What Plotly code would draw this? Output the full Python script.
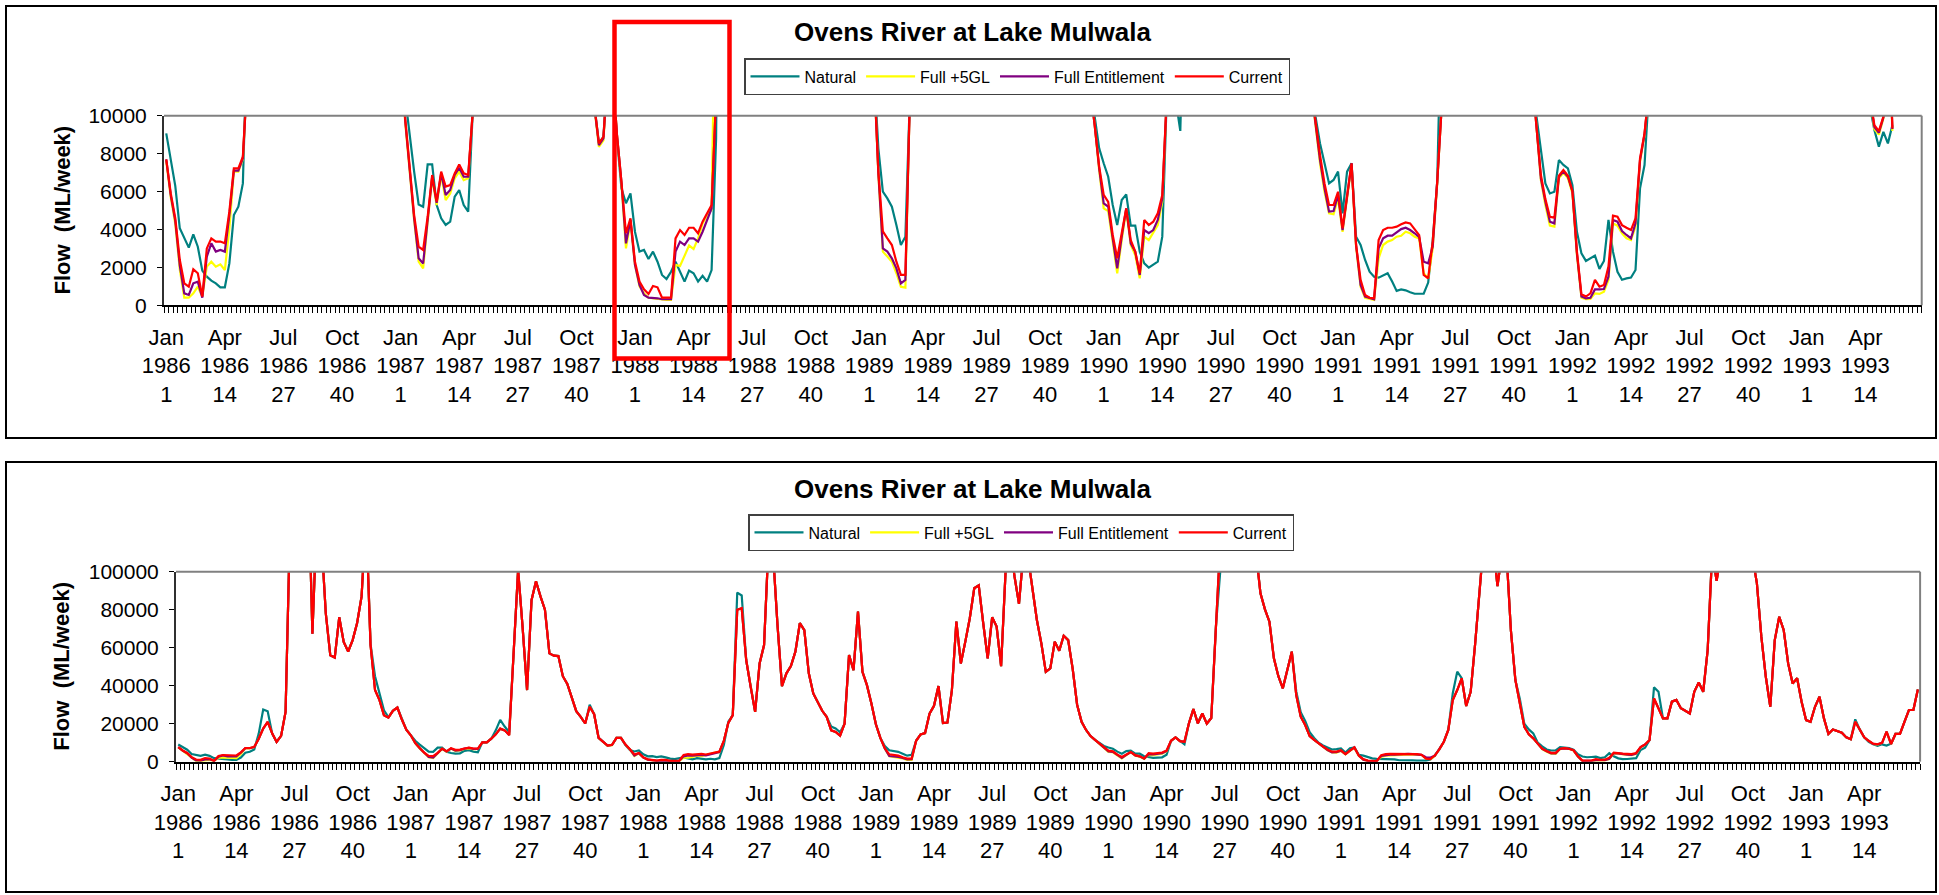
import plotly.graph_objects as go

# ---------------- data ----------------
weeks = list(range(390))  # week index, Jan 1986 wk1 .. 1993 wk26

tick_pos = [0, 13, 26, 39, 52, 65, 78, 91, 104, 117, 130, 143, 156, 169, 182,
            195, 208, 221, 234, 247, 260, 273, 286, 299, 312, 325, 338, 351, 364, 377]
tick_text = [
    "Jan<br>1986<br>1", "Apr<br>1986<br>14", "Jul<br>1986<br>27", "Oct<br>1986<br>40",
    "Jan<br>1987<br>1", "Apr<br>1987<br>14", "Jul<br>1987<br>27", "Oct<br>1987<br>40",
    "Jan<br>1988<br>1", "Apr<br>1988<br>14", "Jul<br>1988<br>27", "Oct<br>1988<br>40",
    "Jan<br>1989<br>1", "Apr<br>1989<br>14", "Jul<br>1989<br>27", "Oct<br>1989<br>40",
    "Jan<br>1990<br>1", "Apr<br>1990<br>14", "Jul<br>1990<br>27", "Oct<br>1990<br>40",
    "Jan<br>1991<br>1", "Apr<br>1991<br>14", "Jul<br>1991<br>27", "Oct<br>1991<br>40",
    "Jan<br>1992<br>1", "Apr<br>1992<br>14", "Jul<br>1992<br>27", "Oct<br>1992<br>40",
    "Jan<br>1993<br>1", "Apr<br>1993<br>14",
]

natural = [
    9070, 7660, 6300, 4060, 3530, 3040, 3740, 3090, 1830, 1510, 1300, 1160, 950,
    950, 2210, 4760, 5200, 6430, 14800, 27500, 26500, 14800, 10400, 13600, 26200, 125000,
    135000, 140000, 130000, 158000, 67300, 130000, 118000, 78000, 56000, 54800, 76000, 63000, 58000,
    64000, 73000, 87000, 130000, 62000, 45000, 36000, 27000, 23500, 26800, 28500, 22200, 16900,
    14000, 11000, 8980, 7050, 5320, 5200, 7430, 7430, 5290, 4590, 4240, 4410, 5730,
    6080, 5290, 4940, 10200, 10200, 12100, 16500, 22000, 18500, 15500, 57000, 101000, 71000,
    37700, 85000, 95000, 87000, 80000, 57000, 55800, 55600, 45000, 40900, 34200, 26600, 23600,
    20100, 30000, 25000, 12500, 10400, 8540, 8890, 12500, 12500, 8800, 6170, 5380, 5900,
    3880, 2830, 2920, 2440, 2830, 2300, 1600, 1390, 1770, 2300, 1770, 1250, 1830,
    1690, 1250, 1560, 1250, 1860, 8800, 21000, 24500, 89000, 87500, 53500, 39400, 26200,
    51700, 61400, 115000, 110000, 72000, 39800, 46500, 50300, 57900, 72900, 69300, 46500, 35900,
    31500, 26800, 23600, 18500, 17500, 15500, 20000, 56100, 48200, 79000, 47300, 40300, 30600,
    19700, 12500, 8280, 5990, 5640, 5200, 4230, 3180, 3620, 11000, 14400, 15100, 25300,
    29400, 39800, 20400, 20600, 37700, 73700, 51700, 63200, 75500, 91300, 92800, 72900, 54400,
    76000, 71100, 50300, 100000, 115000, 97500, 83100, 110000, 108000, 92000, 74600, 62300, 47300,
    49100, 63200, 58400, 66300, 64000, 49000, 30000, 21000, 16700, 13500, 11500, 9950, 8280,
    7490, 6780, 5290, 4230, 5550, 5850, 4200, 4200, 2830, 2210, 1990, 2130, 2300,
    3620, 11000, 12800, 10800, 9200, 20200, 27700, 20200, 25400, 20000, 23000, 70000, 115000,
    130000, 140000, 135000, 125000, 120000, 130000, 125000, 110000, 88600, 80200, 73700, 54400, 45000,
    38600, 48000, 57900, 37000, 26000, 21500, 15500, 12500, 9950, 8540, 7490, 6430, 6610,
    7050, 4850, 7050, 7490, 3620, 3180, 2390, 1770, 1510, 1460, 1560, 1690, 1250,
    760, 840, 790, 690, 610, 610, 610, 1200, 3400, 6500, 10500, 16700, 36000,
    47400, 44000, 29300, 36800, 62000, 90000, 118000, 125000, 115000, 92400, 110000, 110000, 69000,
    43000, 33000, 20000, 17000, 14900, 10000, 8100, 6430, 5900, 5990, 7660, 7400, 7220,
    6340, 3880, 2740, 2340, 2480, 2620, 1920, 2340, 4500, 2830, 1770, 1350, 1420,
    1460, 1860, 6170, 7400, 11400, 39100, 36800, 22800, 22800, 31600, 32500, 28100, 26800,
    25400, 36800, 41700, 36800, 58800, 110000, 95200, 110000, 120000, 130000, 125000, 120000, 115000,
    112000, 108000, 94000, 65800, 44700, 28900, 64000, 76300, 69300, 51700, 41200, 43900, 31600,
    21900, 21000, 28900, 34200, 22800, 14600, 17000, 16300, 15300, 12800, 11800, 22300, 17000,
    12800, 10500, 9240, 8370, 9150, 8540, 9500, 14600, 14600, 21000, 27200, 27200, 38000,
]

full_5gl = [
    7600, 5700, 4300, 1900, 400, 400, 630, 980, 460, 2040, 2300, 2040, 2160,
    1860, 4060, 7050, 7050, 7700, 12100, 17400, 21000, 15000, 10400, 13600, 26200, 125000,
    135000, 140000, 130000, 158000, 67300, 130000, 118000, 78000, 56000, 54800, 76000, 63000, 58000,
    64000, 73000, 87000, 130000, 61500, 37700, 32400, 24500, 23200, 26800, 28500, 22200, 16900,
    13900, 9700, 7000, 4500, 2300, 1950, 4400, 6700, 5290, 6870, 5550, 5900, 6700,
    7050, 6600, 6700, 10200, 10200, 12100, 14400, 17400, 16500, 14000, 57000, 101000, 71000,
    37700, 85000, 95000, 87000, 80000, 57000, 55800, 55600, 45000, 40900, 34200, 26600, 23600,
    20100, 28900, 25000, 12500, 10400, 8350, 8700, 12500, 12500, 9000, 6400, 3000, 4400,
    2130, 1000, 630, 400, 370, 320, 280, 280, 280, 2130, 2070, 2570, 3150,
    2970, 3530, 4320, 4760, 5030, 11000, 20400, 24500, 80000, 80800, 53500, 39400, 26200,
    51700, 61400, 115000, 110000, 72000, 39800, 46500, 50300, 57900, 72900, 69300, 46500, 35900,
    31500, 26800, 23600, 16500, 15700, 13700, 20000, 56100, 48200, 79000, 47300, 40300, 30600,
    19700, 12500, 6900, 2830, 2570, 2300, 1690, 980, 930, 11000, 14400, 15100, 25300,
    29400, 39800, 20400, 20600, 37700, 73700, 51700, 63200, 75500, 91300, 92800, 72900, 54400,
    76000, 71100, 50300, 100000, 115000, 97500, 83100, 110000, 108000, 92000, 74600, 62300, 47300,
    49100, 63200, 58400, 66300, 64000, 49000, 30000, 21000, 16700, 13500, 11500, 9500, 7100,
    5110, 4970, 3360, 1690, 3440, 5030, 3180, 2650, 1420, 3620, 3440, 3800, 4230,
    5460, 11000, 12800, 10800, 10500, 20200, 27700, 20200, 25400, 20000, 23000, 70000, 115000,
    130000, 140000, 135000, 125000, 120000, 130000, 125000, 110000, 88600, 80200, 73700, 54400, 45000,
    38600, 48000, 57900, 35000, 23700, 19300, 13500, 11500, 9600, 7490, 5990, 4850, 4800,
    5640, 3880, 5700, 7400, 3090, 980, 400, 320, 280, 2480, 3180, 3360, 3440,
    3620, 3670, 3880, 3800, 3620, 3530, 1690, 1420, 3000, 6400, 10500, 16700, 32500,
    37700, 43900, 29300, 36800, 62000, 90000, 118000, 125000, 115000, 92400, 110000, 110000, 69000,
    43000, 31600, 18400, 14400, 12300, 9500, 6600, 5290, 4200, 4150, 6700, 7000, 6700,
    5900, 2650, 400, 320, 340, 630, 600, 720, 1340, 4320, 4200, 3800, 3530,
    3440, 4150, 7570, 8980, 11400, 33300, 28100, 22800, 22800, 31600, 32500, 28100, 26800,
    25400, 36800, 41700, 36800, 58800, 110000, 95200, 110000, 120000, 130000, 125000, 120000, 115000,
    112000, 108000, 94000, 65800, 44700, 28900, 64000, 76300, 69300, 51700, 41200, 43900, 31600,
    21900, 21000, 28900, 34200, 22800, 14600, 17000, 16300, 15300, 12800, 11800, 21000, 17000,
    12800, 11000, 9300, 9000, 9850, 15800, 9200, 14600, 14600, 21000, 27200, 27200, 38000,
]

full_entitlement = [
    7700, 5800, 4450, 2100, 630, 545, 1160, 1250, 400, 2570, 3270, 2830, 2920,
    2830, 4760, 7100, 7100, 7750, 12100, 17400, 21000, 15000, 10400, 13600, 26200, 125000,
    135000, 140000, 130000, 158000, 67300, 130000, 118000, 78000, 56000, 54800, 76000, 63000, 58000,
    64000, 73000, 87000, 130000, 61500, 37700, 32400, 24500, 23200, 26800, 28500, 22200, 16900,
    13900, 9800, 7100, 4600, 2480, 2210, 4500, 6780, 5400, 6960, 5820, 6080, 6870,
    7250, 6780, 6780, 10200, 10200, 12100, 14400, 17400, 16500, 14000, 57000, 101000, 71000,
    37700, 85000, 95000, 87000, 80000, 57000, 55800, 55600, 45000, 40900, 34200, 26600, 23600,
    20100, 28900, 25000, 12500, 10400, 8450, 8800, 12500, 12500, 9000, 6500, 3270, 4500,
    2130, 1070, 545, 400, 400, 370, 320, 320, 320, 2830, 3360, 3180, 3530,
    3530, 3360, 3880, 4500, 5110, 11000, 20400, 24500, 80000, 80800, 53500, 39400, 26200,
    51700, 61400, 115000, 110000, 72000, 39800, 46500, 50300, 57900, 72900, 69300, 46500, 35900,
    31500, 26800, 23600, 16500, 15700, 13700, 20000, 56100, 48200, 79000, 47300, 40300, 30600,
    19700, 12500, 7000, 3000, 2830, 2480, 1950, 1160, 1340, 11000, 14400, 15100, 25300,
    29400, 39800, 20400, 20600, 37700, 73700, 51700, 63200, 75500, 91300, 92800, 72900, 54400,
    76000, 71100, 50300, 100000, 115000, 97500, 83100, 110000, 108000, 92000, 74600, 62300, 47300,
    49100, 63200, 58400, 66300, 64000, 49000, 30000, 21000, 16700, 13500, 11500, 9500, 7220,
    5380, 5200, 3530, 1950, 3620, 5110, 3270, 2830, 1600, 3970, 3800, 3970, 4500,
    5640, 11000, 12800, 10800, 10500, 20200, 27700, 20200, 25400, 20000, 23000, 70000, 115000,
    130000, 140000, 135000, 125000, 120000, 130000, 125000, 110000, 88600, 80200, 73700, 54400, 45000,
    38600, 48000, 57900, 35000, 23700, 19300, 13500, 11500, 9600, 7660, 6170, 4940, 4970,
    5820, 3970, 5800, 7490, 3180, 1070, 460, 370, 320, 3000, 3530, 3670, 3670,
    3850, 4020, 4090, 3970, 3800, 3600, 2300, 2210, 3090, 6500, 10500, 16700, 32500,
    37700, 43900, 29300, 36800, 62000, 90000, 118000, 125000, 115000, 92400, 110000, 110000, 69000,
    43000, 31600, 18400, 14400, 12300, 9500, 6700, 5460, 4410, 4320, 6780, 7050, 6780,
    6000, 2740, 460, 370, 400, 840, 840, 860, 1510, 4500, 4410, 3920, 3710,
    3530, 4320, 7660, 9020, 11400, 33300, 28100, 22800, 22800, 31600, 32500, 28100, 26800,
    25400, 36800, 41700, 36800, 58800, 110000, 95200, 110000, 120000, 130000, 125000, 120000, 115000,
    112000, 108000, 94000, 65800, 44700, 28900, 64000, 76300, 69300, 51700, 41200, 43900, 31600,
    21900, 21000, 28900, 34200, 22800, 14600, 17000, 16300, 15300, 12800, 11800, 21000, 17000,
    12800, 11000, 9400, 9100, 9900, 15800, 9300, 14600, 14600, 21000, 27200, 27200, 38000,
]

current = [
    7700, 5900, 4600, 2400, 1160, 980, 1900, 1690, 460, 3000, 3530, 3360, 3360,
    3270, 4940, 7220, 7220, 7840, 12100, 17400, 21000, 15000, 10400, 13600, 26200, 125000,
    135000, 140000, 130000, 158000, 67300, 130000, 118000, 78000, 56000, 54800, 76000, 63000, 58000,
    64000, 73000, 87000, 130000, 61500, 37700, 32400, 24500, 23200, 26800, 28500, 22200, 16900,
    13900, 9900, 7220, 4760, 3090, 2920, 4670, 6870, 5470, 7050, 6260, 6340, 6960,
    7430, 6960, 6870, 10200, 10200, 12100, 14400, 17400, 16500, 14000, 57000, 101000, 71000,
    37700, 85000, 95000, 87000, 80000, 57000, 55800, 55600, 45000, 40900, 34200, 26600, 23600,
    20100, 28900, 25000, 12500, 10400, 8540, 8890, 12500, 12500, 9000, 6500, 3800, 4590,
    2300, 1250, 840, 600, 1020, 950, 400, 400, 400, 3530, 3970, 3710, 4090,
    4090, 3800, 4410, 4850, 5290, 11000, 20400, 24500, 80000, 80800, 53500, 39400, 26200,
    51700, 61400, 115000, 110000, 72000, 39800, 46500, 50300, 57900, 72900, 69300, 46500, 35900,
    31500, 26800, 23600, 16500, 15700, 13700, 20000, 56100, 48200, 79000, 47300, 40300, 30600,
    19700, 12500, 7050, 3900, 3530, 3180, 2300, 1600, 1600, 11000, 14400, 15100, 25300,
    29400, 39800, 20400, 20600, 37700, 73700, 51700, 63200, 75500, 91300, 92800, 72900, 54400,
    76000, 71100, 50300, 100000, 115000, 97500, 83100, 110000, 108000, 92000, 74600, 62300, 47300,
    49100, 63200, 58400, 66300, 64000, 49000, 30000, 21000, 16700, 13500, 11500, 9500, 7310,
    5820, 5460, 3710, 2480, 3800, 5110, 3440, 2830, 1690, 4500, 4230, 4410, 4850,
    5820, 11000, 12800, 10800, 10500, 20200, 27700, 20200, 25400, 20000, 23000, 70000, 115000,
    130000, 140000, 135000, 125000, 120000, 130000, 125000, 110000, 88600, 80200, 73700, 54400, 45000,
    38600, 48000, 57900, 35000, 23700, 19300, 13500, 11500, 9600, 7920, 6430, 5290, 5290,
    5990, 4060, 5800, 7490, 3180, 1340, 545, 400, 370, 3440, 3970, 4090, 4090,
    4150, 4270, 4370, 4320, 4020, 3700, 1600, 1420, 3360, 6520, 10500, 16700, 32500,
    37700, 43900, 29300, 36800, 62000, 90000, 118000, 125000, 115000, 92400, 110000, 110000, 69000,
    43000, 31600, 18400, 14400, 12300, 9500, 6870, 5600, 4670, 4620, 6830, 7130, 6830,
    6030, 2830, 580, 460, 630, 1340, 980, 1070, 2040, 4730, 4670, 4230, 4090,
    3970, 4590, 7750, 9070, 11400, 33300, 28100, 22800, 22800, 31600, 32500, 28100, 26800,
    25400, 36800, 41700, 36800, 58800, 110000, 95200, 110000, 120000, 130000, 125000, 120000, 115000,
    112000, 108000, 94000, 65800, 44700, 28900, 64000, 76300, 69300, 51700, 41200, 43900, 31600,
    21900, 21000, 28900, 34200, 22800, 14600, 17000, 16300, 15300, 12800, 11800, 21000, 17000,
    12800, 11000, 9500, 9190, 9950, 15800, 9330, 14600, 14600, 21000, 27200, 27200, 38000,
]

series_names = ["Natural", "Full +5GL", "Full Entitlement", "Current"]
series_colors = ["#008080", "#FFFF00", "#800080", "#FF0000"]
series_values = [natural, full_5gl, full_entitlement, current]
top_last_week = 384  # the upper (zoomed) chart's series stop here

# ---------------- layout helpers ----------------
W, H = 1939, 895
def px(x):
    return x / W
def py(y):
    return 1 - y / H

FONT = "Arial, Liberation Sans, sans-serif"

fig = go.Figure()
for name, vals, col in zip(series_names, series_values, series_colors):
    fig.add_trace(go.Scatter(
        x=weeks[:top_last_week], y=vals[:top_last_week], mode="lines", name=name,
        line=dict(color=col, width=2.2), xaxis="x", yaxis="y", legend="legend",
        hoverinfo="skip"))
for name, vals, col in zip(series_names, series_values, series_colors):
    fig.add_trace(go.Scatter(
        x=weeks, y=vals, mode="lines", name=name,
        line=dict(color=col, width=2.2), xaxis="x2", yaxis="y2", legend="legend2",
        hoverinfo="skip"))

def xaxis_cfg(x0, x1, anchor):
    return dict(
        domain=[px(x0), px(x1)], range=[-0.5, 389.5], anchor=anchor, automargin=False,
        tickmode="array", tickvals=tick_pos, ticktext=tick_text,
        ticks="", ticklabelstandoff=11,
        tickfont=dict(family=FONT, size=22, color="black"),
        showline=True, linecolor="black", linewidth=2,
        showgrid=False, zeroline=False,
        minor=dict(tickmode="linear", tick0=-0.5, dtick=1, ticks="outside",
                   ticklen=6, tickwidth=1, tickcolor="black", showgrid=False),
    )

def yaxis_cfg(y_top, y_bot, anchor, rmax, dt):
    return dict(
        domain=[py(y_bot), py(y_top)], range=[0, rmax], anchor=anchor, automargin=False,
        tickmode="linear", tick0=0, dtick=dt, tickformat="d",
        ticks="outside", ticklen=5, tickwidth=1, tickcolor="black",
        ticklabelstandoff=6,
        tickfont=dict(family=FONT, size=21, color="black"),
        showline=True, linecolor="#303030", linewidth=2,
        showgrid=False, zeroline=False,
    )

top_x0, top_x1, top_y0, top_y1 = 164, 1921.7, 115.7, 305.3
bot_x0, bot_x1, bot_y0, bot_y1 = 176, 1920.1, 571.7, 761.7

fig.update_layout(
    template="none",
    width=W, height=H, autosize=False,
    margin=dict(l=0, r=0, t=0, b=0, pad=0, autoexpand=False),
    paper_bgcolor="white", plot_bgcolor="white",
    font=dict(family=FONT, color="black"),
    showlegend=True,
    xaxis=xaxis_cfg(top_x0, top_x1, "y"),
    yaxis=yaxis_cfg(top_y0, top_y1, "x", 10000, 2000),
    xaxis2=xaxis_cfg(bot_x0, bot_x1, "y2"),
    yaxis2=yaxis_cfg(bot_y0, bot_y1, "x2", 100000, 20000),
    legend=dict(orientation="h", x=px(744), y=py(58), xanchor="left", yanchor="top",
                bgcolor="white", bordercolor="#404040", borderwidth=1.5,
                font=dict(family=FONT, size=16, color="black"), itemwidth=49,
                itemclick=False, itemdoubleclick=False),
    legend2=dict(orientation="h", x=px(748), y=py(514), xanchor="left", yanchor="top",
                 bgcolor="white", bordercolor="#404040", borderwidth=1.5,
                 font=dict(family=FONT, size=16, color="black"), itemwidth=49,
                 itemclick=False, itemdoubleclick=False),
)

shapes = []
# grey plot-area frame (top and right edges)
for xr, yr in (("x domain", "y domain"), ("x2 domain", "y2 domain")):
    shapes.append(dict(type="line", xref=xr, yref=yr, x0=0, x1=1, y0=1, y1=1,
                       line=dict(color="#808080", width=2)))
    shapes.append(dict(type="line", xref=xr, yref=yr, x0=1, x1=1, y0=0, y1=1,
                       line=dict(color="#808080", width=2)))
# outer panel boxes
shapes.append(dict(type="rect", xref="paper", yref="paper",
                   x0=px(6), x1=px(1936), y0=py(438), y1=py(6),
                   line=dict(color="black", width=2), fillcolor="rgba(0,0,0,0)"))
shapes.append(dict(type="rect", xref="paper", yref="paper",
                   x0=px(6), x1=px(1936), y0=py(892), y1=py(462),
                   line=dict(color="black", width=2), fillcolor="rgba(0,0,0,0)"))
# red highlight box
shapes.append(dict(type="rect", xref="paper", yref="paper",
                   x0=px(614.5), x1=px(729.5), y0=py(358.5), y1=py(22),
                   line=dict(color="#FF0000", width=4.5), fillcolor="rgba(0,0,0,0)"))
fig.update_layout(shapes=shapes)

annotations = []
for yc in (32.5, 488.5):
    annotations.append(dict(text="<b>Ovens River at Lake Mulwala</b>", xref="paper", yref="paper",
                            x=px(972), y=py(yc), xanchor="center", yanchor="middle",
                            showarrow=False, font=dict(family=FONT, size=26, color="black")))
for yc in ((top_y0 + top_y1) / 2, (bot_y0 + bot_y1) / 2):
    annotations.append(dict(text="<b>Flow  (ML/week)</b>", xref="paper", yref="paper",
                            x=px(62), y=py(yc), xanchor="center", yanchor="middle",
                            textangle=-90, showarrow=False,
                            font=dict(family=FONT, size=22, color="black")))
fig.update_layout(annotations=annotations)

fig.write_html("out.html",
               config={"displayModeBar": False},
               post_script="document.body.style.margin='0';document.body.style.overflow='hidden';")
